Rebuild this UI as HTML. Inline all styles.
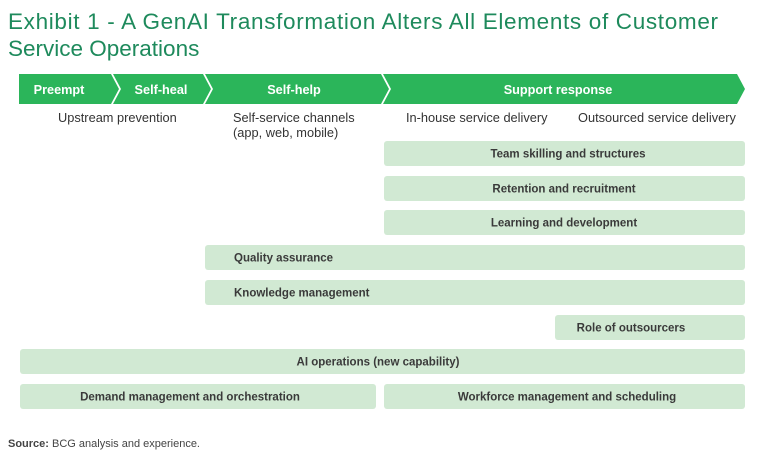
<!DOCTYPE html>
<html><head><meta charset="utf-8"><style>
html,body{margin:0;padding:0;background:#fff;width:768px;height:464px;overflow:hidden}
svg{display:block}
text{font-family:"Liberation Sans",sans-serif}
</style></head><body>
<svg width="768" height="464" viewBox="0 0 768 464">
<text x="8" y="29" font-size="22.5" fill="#1e8a5c" textLength="710" lengthAdjust="spacing">Exhibit 1 - A GenAI Transformation Alters All Elements of Customer</text>
<text x="8" y="56" font-size="22.5" fill="#1e8a5c">Service Operations</text>
<g fill="#2bb55a">
<polygon points="19,74 111,74 119,89 111,104 19,104"/>
<polygon points="113,74 203,74 211,89 203,104 113,104 121,89"/>
<polygon points="205,74 381,74 389,89 381,104 205,104 213,89"/>
<polygon points="383,74 737,74 745,89 737,104 383,104 391,89"/>
</g>
<g font-size="12.7" font-weight="bold" fill="#fff" text-anchor="middle">
<text x="59" y="94">Preempt</text>
<text x="161" y="94">Self-heal</text>
<text x="294" y="94">Self-help</text>
<text x="558" y="94">Support response</text>
</g>
<g font-size="12.8" fill="#333">
<text x="58" y="122">Upstream prevention</text>
<text x="233" y="122">Self-service channels</text>
<text x="233" y="137">(app, web, mobile)</text>
<text x="406" y="122">In-house service delivery</text>
<text x="578" y="122">Outsourced service delivery</text>
</g>
<g fill="#d1e9d3">
<rect x="384" y="141" width="361" height="25" rx="3"/>
<rect x="384" y="176" width="361" height="25" rx="3"/>
<rect x="384" y="210" width="361" height="25" rx="3"/>
<rect x="205" y="245" width="540" height="25" rx="3"/>
<rect x="205" y="280" width="540" height="25" rx="3"/>
<rect x="555" y="315" width="190" height="25" rx="3"/>
<rect x="20" y="349" width="725" height="25" rx="3"/>
<rect x="20" y="384" width="356" height="25" rx="3"/>
<rect x="384" y="384" width="361" height="25" rx="3"/>
</g>
<g font-size="11.5" font-weight="bold" fill="#3a3a3a">
<text x="568" y="157.5" text-anchor="middle">Team skilling and structures</text>
<text x="564" y="192.5" text-anchor="middle">Retention and recruitment</text>
<text x="564" y="226.5" text-anchor="middle">Learning and development</text>
<text x="234" y="261.5">Quality assurance</text>
<text x="234" y="296.5">Knowledge management</text>
<text x="631" y="331.5" text-anchor="middle">Role of outsourcers</text>
<text x="378" y="365.5" text-anchor="middle">AI operations (new capability)</text>
<text x="190" y="400.5" text-anchor="middle">Demand management and orchestration</text>
<text x="567" y="400.5" text-anchor="middle">Workforce management and scheduling</text>
</g>
<text x="8" y="447" font-size="11" fill="#444"><tspan font-weight="bold">Source:</tspan> BCG analysis and experience.</text>
</svg>
</body></html>
